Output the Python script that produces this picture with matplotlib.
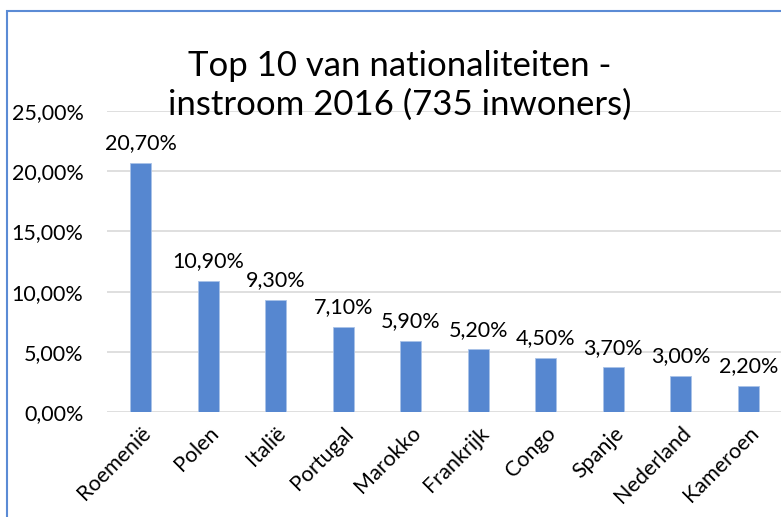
import matplotlib.pyplot as plt
from matplotlib.patches import Rectangle

landen = ["Roemenië", "Polen", "Italië", "Portugal", "Marokko",
          "Frankrijk", "Congo", "Spanje", "Nederland", "Kameroen"]
aandeel = [20.7, 10.9, 9.3, 7.1, 5.9, 5.2, 4.5, 3.7, 3.0, 2.2]
yticks = [0, 5, 10, 15, 20, 25]

plt.rcParams['font.family'] = ['Lato', 'DejaVu Sans']

fig = plt.figure(figsize=(7.81, 5.17), dpi=100)
ax = fig.add_axes([107 / 781, 1 - 412 / 517, 675 / 781, (412 - 111) / 517])

x = range(len(landen))
ax.bar(x, aandeel, width=0.31, color='#5687D0', edgecolor='#A9C2E8', linewidth=0.6, zorder=3)
for i, v in zip(x, aandeel):
    ax.text(i, v + 0.8, f"{v:.2f}%".replace('.', ','), ha='center', va='bottom', fontsize=15.5)

ax.set_xlim(-0.5, 9.5)
ax.set_ylim(0, 25)
ax.set_yticks(yticks)
ax.set_yticklabels([f"{t:.2f}%".replace('.', ',') for t in yticks], fontsize=15.5)
ax.set_xticks(list(x))
ax.set_xticklabels(landen, rotation=45, ha='right', rotation_mode='anchor', fontsize=15.5)
ax.tick_params(length=0, pad=8)
ax.tick_params(axis='y', pad=17)
ax.grid(axis='y', color='#D9D9D9', linewidth=1.2, zorder=0)
for s in ax.spines.values():
    s.set_visible(False)

fig.text(400 / 781, 1 - 85 / 517, "Top 10 van nationaliteiten -\ninstroom 2016 (735 inwoners)",
         ha='center', va='center', fontsize=25, linespacing=1.25)

fig.patches.append(Rectangle((7 / 781, -0.1), 1.2, 1 - 11 / 517 + 0.1, transform=fig.transFigure,
                             fill=False, edgecolor='#5B8BD5', linewidth=1.5))

fig.savefig("out.png", dpi=100)
